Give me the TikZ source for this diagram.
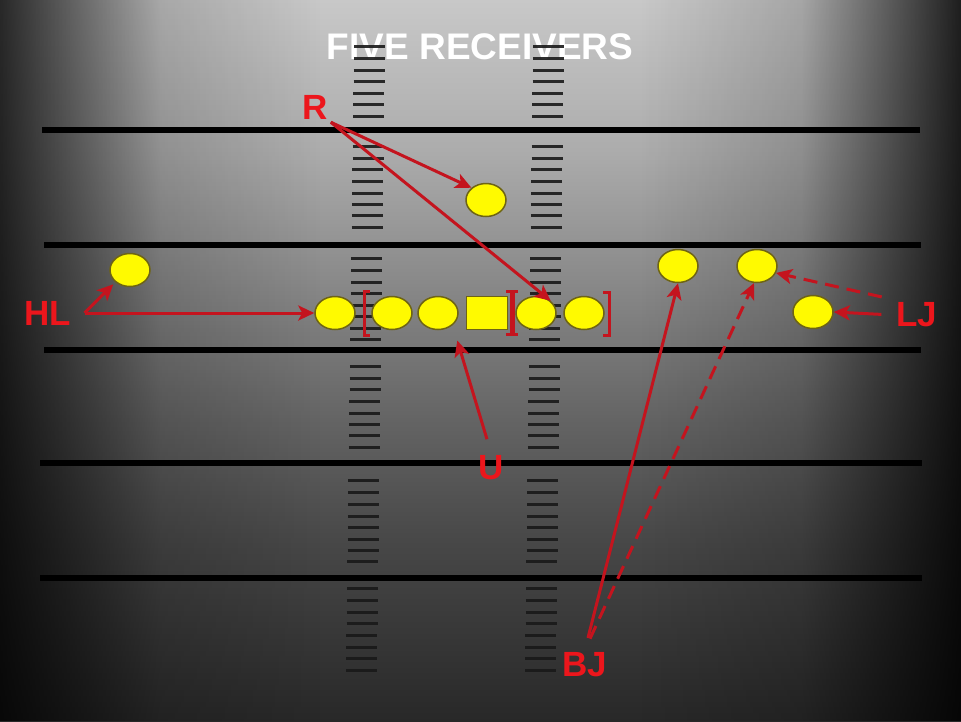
\documentclass[tikz,border=0pt]{standalone}
\usepackage{fontspec}
\setmainfont{Liberation Sans}
\usetikzlibrary{shapes.geometric,arrows.meta,fadings}

\definecolor{arrowred}{RGB}{196,20,30}
\definecolor{labelred}{RGB}{236,22,28}
\definecolor{plyellow}{RGB}{255,250,0}
\definecolor{pledge}{RGB}{110,100,20}
\definecolor{bgO}{RGB}{200,200,200}
\definecolor{bgA}{RGB}{172,172,172}
\definecolor{bgB}{RGB}{132,132,132}
\definecolor{bgC}{RGB}{100,100,100}
\definecolor{bgD}{RGB}{72,72,72}
\definecolor{bgE}{RGB}{40,40,40}

\pgfdeclareverticalshading{fieldbg}{100bp}{color(0bp)=(bgE); color(25bp)=(bgE); color(37.6bp)=(bgD); color(45.9bp)=(bgC); color(54.2bp)=(bgB); color(64.6bp)=(bgA); color(75bp)=(bgO); color(100bp)=(bgO)}

\tikzfading[name=vigleft, left color=transparent!0, right color=transparent!100, middle color=transparent!80]
\tikzfading[name=vigright, left color=transparent!100, right color=transparent!0, middle color=transparent!80]

\begin{document}
\begin{tikzpicture}[x=1pt,y=-1pt,
  player/.style={ellipse, minimum width=40pt, minimum height=33pt, inner sep=0pt,
    fill=plyellow, draw=pledge, line width=1.5pt},
  snapper/.style={rectangle, minimum width=41pt, minimum height=33pt, inner sep=0pt,
    fill=plyellow, draw=pledge, line width=1.5pt},
  lbl/.style={text=labelred, font=\fontsize{35}{35}\selectfont\bfseries, inner sep=3pt},
  titletext/.style={text=white, font=\fontsize{37}{37}\selectfont\bfseries, inner sep=2pt},
  conn/.style={draw=arrowred, line width=3pt, -{Stealth[length=16pt,width=15pt,inset=4pt]}},
  dashconn/.style={conn, dash pattern=on 14pt off 8pt},
  yardline/.style={draw=black, line width=6pt},
  hashmark/.style={draw=black!90, line width=3pt, opacity=0.9},
  bracket/.style={draw=arrowred, line width=3pt}
]
\useasboundingbox (0,0) rectangle (961,721);
% background
\shade[shading=fieldbg] (0,0) rectangle (961,721);
\fill[black, fill opacity=0.8, path fading=vigleft] (0,0) rectangle (320,721);
\fill[black, fill opacity=0.85, path fading=vigright] (641,0) rectangle (961,721);

% title
\node[titletext] (title) at (480,47) {FIVE RECEIVERS};

% hash marks
\foreach \yy in {46,58,70,81,93,104,116,
                 146,158,169,181,193,204,215,227,
                 258,270,282,293,305,316,328,339,
                 366,378,389,401,413,424,435,447,
                 480,492,504,516,527,539,550,561,
                 588,600,612,623,635,647,658,670}{
  \pgfmathsetmacro\dx{8*(\yy-46)/624}
  \draw[hashmark] ({354-\dx},\yy) -- ++(31,0);
  \draw[hashmark] ({533-\dx},\yy) -- ++(31,0);
}

% yard lines
\foreach \yy/\xa/\xb in {130/42/920, 245/44/921, 350/44/921, 463/40/922, 578/40/922}
  \draw[yardline] (\xa,\yy) -- (\xb,\yy);

% players
\node[player] (deep) at (486,200) {};
\node[player] (hlrec) at (130,270) {};
\node[player] (c1) at (335,313) {};
\node[player] (c2) at (392,313) {};
\node[player] (c3) at (438,313) {};
\node[snapper] (ctr) at (487,313) {};
\node[player] (c4) at (536,313) {};
\node[player] (c5) at (584,313) {};
\node[player] (rA) at (678,266) {};
\node[player] (rB) at (757,266) {};
\node[player] (rC) at (813,312) {};

% brackets
\draw[bracket] (370,291) -- (364,291) -- (364,335) -- (370,335);
\draw[bracket] (506,291) -- (518,291);
\draw[bracket] (506,334) -- (518,334);
\draw[draw=arrowred, line width=5pt] (512,291) -- (512,334);
\draw[bracket] (603,292) -- (609,292) -- (609,335) -- (603,335);

% labels
\node[lbl] (R) at (315,107) {R};
\node[lbl] (HL) at (48,313) {HL};
\node[lbl] (LJ) at (917,315) {LJ};
\node[lbl] (U) at (491,468) {U};
\node[lbl] (BJ) at (585,665) {BJ};
\coordinate (hlfoot) at ([xshift=10pt]HL.east);

% connectors
\draw[conn] (R.south east) -- (deep.140);
\draw[conn] (R.south east) -- (c4.north east);
\draw[conn] (hlfoot) -- (c1.west);
\draw[conn, shorten >=3pt] (hlfoot) -- (hlrec.south west);
\draw[conn, shorten <=14pt, shorten >=16pt] (U.north) -- (c3.south east);
\draw[conn, shorten <=12pt] (BJ.north) -- (rA.south);
\draw[dashconn, shorten <=12pt] (BJ.north) -- (rB.-100);
\draw[conn, shorten <=12pt] (LJ.west) -- (rC.east);
\draw[dashconn, shorten <=12pt] (LJ.north west) -- (rB.-20);
\end{tikzpicture}
\end{document}
